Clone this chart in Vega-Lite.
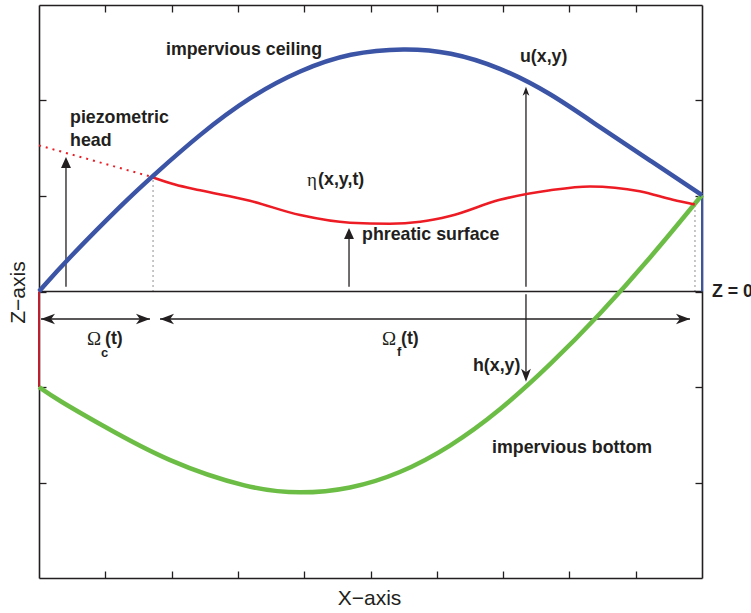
{
  "$schema": "https://vega.github.io/schema/vega-lite/v6.json",
  "width": 663,
  "height": 573,
  "autosize": "none",
  "padding": {"left": 39, "top": 5, "right": 49, "bottom": 35},
  "background": "white",
  "config": {"view": {"stroke": null}},
  "datasets": {
    "curves": [
      {"series": "ceiling", "x": 0, "y": 0},
      {"series": "ceiling", "x": 0.39, "y": 0.31},
      {"series": "ceiling", "x": 1.32, "y": 0.96},
      {"series": "ceiling", "x": 1.7, "y": 1.2},
      {"series": "ceiling", "x": 2.43, "y": 1.65},
      {"series": "ceiling", "x": 3.18, "y": 2.04},
      {"series": "ceiling", "x": 3.94, "y": 2.32},
      {"series": "ceiling", "x": 4.69, "y": 2.5},
      {"series": "ceiling", "x": 5.52, "y": 2.55},
      {"series": "ceiling", "x": 6.2, "y": 2.51},
      {"series": "ceiling", "x": 6.95, "y": 2.35},
      {"series": "ceiling", "x": 7.71, "y": 2.08},
      {"series": "ceiling", "x": 8.46, "y": 1.72},
      {"series": "ceiling", "x": 9.22, "y": 1.37},
      {"series": "ceiling", "x": 10, "y": 1.01},
      {"series": "phreatic", "x": 1.7, "y": 1.2},
      {"series": "phreatic", "x": 2.05, "y": 1.12},
      {"series": "phreatic", "x": 2.43, "y": 1.06},
      {"series": "phreatic", "x": 3.18, "y": 0.95},
      {"series": "phreatic", "x": 3.94, "y": 0.8},
      {"series": "phreatic", "x": 4.69, "y": 0.72},
      {"series": "phreatic", "x": 5.29, "y": 0.71},
      {"series": "phreatic", "x": 5.75, "y": 0.73},
      {"series": "phreatic", "x": 6.2, "y": 0.79},
      {"series": "phreatic", "x": 6.95, "y": 0.96},
      {"series": "phreatic", "x": 7.71, "y": 1.06},
      {"series": "phreatic", "x": 8.31, "y": 1.1},
      {"series": "phreatic", "x": 9.06, "y": 1.05},
      {"series": "phreatic", "x": 9.56, "y": 0.96},
      {"series": "phreatic", "x": 9.89, "y": 0.91},
      {"series": "piezometric", "x": 0, "y": 1.53},
      {"series": "piezometric", "x": 1.7, "y": 1.2},
      {"series": "bottom", "x": 0, "y": -1.0},
      {"series": "bottom", "x": 0.27, "y": -1.13},
      {"series": "bottom", "x": 0.92, "y": -1.39},
      {"series": "bottom", "x": 1.93, "y": -1.78},
      {"series": "bottom", "x": 3.18, "y": -2.07},
      {"series": "bottom", "x": 3.94, "y": -2.12},
      {"series": "bottom", "x": 4.69, "y": -2.07},
      {"series": "bottom", "x": 5.44, "y": -1.91},
      {"series": "bottom", "x": 6.2, "y": -1.63},
      {"series": "bottom", "x": 6.95, "y": -1.25},
      {"series": "bottom", "x": 7.71, "y": -0.77},
      {"series": "bottom", "x": 8.46, "y": -0.24},
      {"series": "bottom", "x": 9.22, "y": 0.35},
      {"series": "bottom", "x": 10, "y": 1.01}
    ],
    "segments": [
      {"kind": "solid", "name": "Z = 0", "x": 0, "y": 0, "x2": 10, "y2": 0},
      {"kind": "solid", "name": "Omega_c", "x": 0.03, "y": -0.288, "x2": 1.674, "y2": -0.288},
      {"kind": "solid", "name": "Omega_f", "x": 1.825, "y": -0.288, "x2": 9.819, "y2": -0.288},
      {"kind": "solid", "name": "piezometric head", "x": 0.407, "y": 0.05, "x2": 0.407, "y2": 1.35},
      {"kind": "solid", "name": "phreatic surface", "x": 4.676, "y": 0.05, "x2": 4.676, "y2": 0.6},
      {"kind": "solid", "name": "u(x,y)", "x": 7.345, "y": 0.05, "x2": 7.345, "y2": 2.12},
      {"kind": "solid", "name": "h(x,y)", "x": 7.345, "y": -0.03, "x2": 7.345, "y2": -0.92},
      {"kind": "dotted", "name": "left front", "x": 1.72, "y": 0, "x2": 1.72, "y2": 1.17},
      {"kind": "dotted", "name": "right front", "x": 9.894, "y": 0, "x2": 9.894, "y2": 0.9},
      {"kind": "redwall", "name": "left wall", "x": 0, "y": 0, "x2": 0, "y2": -1.0},
      {"kind": "bluewall", "name": "right wall", "x": 10, "y": 0, "x2": 10, "y2": 1.01}
    ],
    "heads": [
      {"dir": "filled-up", "x": 0.407, "y": 1.408},
      {"dir": "filled-up", "x": 4.676, "y": 0.665},
      {"dir": "right", "x": 1.674, "y": -0.288},
      {"dir": "right", "x": 9.819, "y": -0.288},
      {"dir": "left", "x": 0.03, "y": -0.288},
      {"dir": "left", "x": 1.825, "y": -0.288},
      {"dir": "up", "x": 7.345, "y": 2.145},
      {"dir": "down", "x": 7.345, "y": -0.945}
    ],
    "labels": [
      {"style": "bold", "label": "impervious ceiling", "x": 1.915, "y": 2.529},
      {"style": "bold", "label": "u(x,y)", "x": 7.255, "y": 2.455},
      {"style": "bold", "label": "piezometric", "x": 0.468, "y": 1.817},
      {"style": "bold", "label": "head", "x": 0.468, "y": 1.576},
      {"style": "plain", "label": "η", "x": 4.042, "y": 1.168},
      {"style": "bold", "label": "(x,y,t)", "x": 4.21, "y": 1.168},
      {"style": "bold", "label": "phreatic surface", "x": 4.872, "y": 0.592},
      {"style": "plain", "label": "Ω", "x": 0.724, "y": -0.497},
      {"style": "sub", "label": "c", "x": 0.935, "y": -0.644},
      {"style": "bold", "label": "(t)", "x": 0.995, "y": -0.497},
      {"style": "plain", "label": "Ω", "x": 5.173, "y": -0.497},
      {"style": "sub", "label": "f", "x": 5.4, "y": -0.634},
      {"style": "bold", "label": "(t)", "x": 5.46, "y": -0.497},
      {"style": "bold", "label": "h(x,y)", "x": 6.546, "y": -0.78},
      {"style": "bold", "label": "impervious bottom", "x": 6.833, "y": -1.639},
      {"style": "bold", "label": "Z = 0", "x": 10.15, "y": 0.0}
    ]
  },
  "resolve": {"axis": {"x": "independent", "y": "independent"}},
  "layer": [
    {
      "encoding": {
        "x": {
          "field": "x", "type": "quantitative",
          "scale": {"domain": [0, 10], "nice": false, "zero": false},
          "axis": {
            "title": "X−axis", "values": [1, 2, 3, 4, 5, 6, 7, 8, 9], "labels": false,
            "tickSize": -7, "tickColor": "#231f20", "tickWidth": 1.3,
            "domainColor": "#231f20", "domainWidth": 1.6, "grid": false,
            "titleFont": "Liberation Sans", "titleFontSize": 21, "titleFontWeight": "normal",
            "titleColor": "#231f20", "titleX": 330, "titleY": 20,
            "titleBaseline": "middle", "titleAlign": "center"
          }
        },
        "y": {
          "field": "y", "type": "quantitative",
          "scale": {"domain": [-3, 3], "nice": false, "zero": false},
          "axis": {
            "title": "Z−axis", "values": [-2, -1, 0, 1, 2], "labels": false,
            "tickSize": -7, "tickColor": "#231f20", "tickWidth": 1.3,
            "domainColor": "#231f20", "domainWidth": 1.6, "grid": false,
            "titleFont": "Liberation Sans", "titleFontSize": 21, "titleFontWeight": "normal",
            "titleColor": "#231f20", "titleAngle": 270, "titleX": -21, "titleY": 287,
            "titleBaseline": "middle", "titleAlign": "center"
          }
        }
      },
      "layer": [
        {
          "data": {"name": "segments"},
          "transform": [{"filter": "datum.kind == 'solid'"}],
          "mark": {"type": "rule", "color": "#231f20", "strokeWidth": 1.3},
          "encoding": {"x2": {"field": "x2"}, "y2": {"field": "y2"}}
        },
        {
          "data": {"name": "segments"},
          "transform": [{"filter": "datum.kind == 'dotted'"}],
          "mark": {"type": "rule", "color": "#231f20", "strokeWidth": 1, "strokeDash": [1, 4]},
          "encoding": {"x2": {"field": "x2"}, "y2": {"field": "y2"}}
        },
        {
          "data": {"name": "segments"},
          "transform": [{"filter": "datum.kind == 'redwall'"}],
          "mark": {"type": "rule", "color": "#be1e2d", "strokeWidth": 2},
          "encoding": {"x2": {"field": "x2"}, "y2": {"field": "y2"}}
        },
        {
          "data": {"name": "segments"},
          "transform": [{"filter": "datum.kind == 'bluewall'"}],
          "mark": {"type": "rule", "color": "#3b54a5", "strokeWidth": 2},
          "encoding": {"x2": {"field": "x2"}, "y2": {"field": "y2"}}
        },
        {
          "data": {"name": "curves"},
          "transform": [{"filter": "datum.series == 'piezometric'"}],
          "mark": {"type": "line", "color": "#ed1c24", "strokeWidth": 2, "strokeDash": [2, 5]},
          "encoding": {}
        },
        {
          "data": {"name": "curves"},
          "transform": [{"filter": "datum.series == 'bottom'"}],
          "mark": {"type": "line", "color": "#6cbd45", "strokeWidth": 4.5, "interpolate": "basis"},
          "encoding": {}
        },
        {
          "data": {"name": "curves"},
          "transform": [{"filter": "datum.series == 'phreatic'"}],
          "mark": {"type": "line", "color": "#ed1c24", "strokeWidth": 2.6, "interpolate": "monotone"},
          "encoding": {}
        },
        {
          "data": {"name": "curves"},
          "transform": [{"filter": "datum.series == 'ceiling'"}],
          "mark": {"type": "line", "color": "#3b54a5", "strokeWidth": 4.5, "interpolate": "basis"},
          "encoding": {}
        },
        {
          "data": {"name": "heads"},
          "transform": [{"filter": "datum.dir == 'filled-up'"}],
          "mark": {"type": "point", "shape": "M0,0L0.9,2L-0.9,2Z", "size": 121, "filled": true, "fill": "#231f20", "strokeWidth": 0, "opacity": 1}
        },
        {
          "data": {"name": "heads"},
          "transform": [{"filter": "datum.dir == 'right'"}],
          "mark": {"type": "point", "shape": "M0,0L-2,-0.75L-1.45,0L-2,0.75Z", "size": 196, "filled": true, "fill": "#231f20", "strokeWidth": 0, "opacity": 1}
        },
        {
          "data": {"name": "heads"},
          "transform": [{"filter": "datum.dir == 'left'"}],
          "mark": {"type": "point", "shape": "M0,0L-2,-0.75L-1.45,0L-2,0.75Z", "size": 196, "angle": 180, "filled": true, "fill": "#231f20", "strokeWidth": 0, "opacity": 1}
        },
        {
          "data": {"name": "heads"},
          "transform": [{"filter": "datum.dir == 'up'"}],
          "mark": {"type": "point", "shape": "M0,0L-2,-0.75L-1.45,0L-2,0.75Z", "size": 81, "angle": 270, "filled": true, "fill": "#231f20", "strokeWidth": 0, "opacity": 1}
        },
        {
          "data": {"name": "heads"},
          "transform": [{"filter": "datum.dir == 'down'"}],
          "mark": {"type": "point", "shape": "M0,0L-2,-0.75L-1.45,0L-2,0.75Z", "size": 169, "angle": 90, "filled": true, "fill": "#231f20", "strokeWidth": 0, "opacity": 1}
        },
        {
          "data": {"name": "labels"},
          "transform": [{"filter": "datum.style == 'bold'"}],
          "mark": {"type": "text", "font": "Liberation Sans", "fontWeight": "bold", "fontSize": 17.8, "color": "#231f20", "align": "left", "baseline": "middle"},
          "encoding": {"text": {"field": "label"}}
        },
        {
          "data": {"name": "labels"},
          "transform": [{"filter": "datum.style == 'plain'"}],
          "mark": {"type": "text", "font": "Liberation Serif", "fontWeight": "normal", "fontSize": 19, "color": "#231f20", "align": "left", "baseline": "middle"},
          "encoding": {"text": {"field": "label"}}
        },
        {
          "data": {"name": "labels"},
          "transform": [{"filter": "datum.style == 'sub'"}],
          "mark": {"type": "text", "font": "Liberation Sans", "fontWeight": "bold", "fontSize": 13, "color": "#231f20", "align": "left", "baseline": "middle"},
          "encoding": {"text": {"field": "label"}}
        }
      ]
    },
    {
      "data": {"name": "segments"},
      "transform": [{"filter": "datum.name == 'Z = 0'"}],
      "mark": {"type": "rule", "opacity": 0},
      "encoding": {
        "x": {
          "field": "x", "type": "quantitative",
          "axis": {
            "orient": "top", "title": null, "values": [1, 2, 3, 4, 5, 6, 7, 8, 9], "labels": false,
            "tickSize": -7, "tickColor": "#231f20", "tickWidth": 1.3,
            "domainColor": "#231f20", "domainWidth": 1.6, "grid": false
          }
        },
        "y": {
          "field": "y", "type": "quantitative",
          "axis": {
            "orient": "right", "title": null, "values": [-2, -1, 0, 1, 2], "labels": false,
            "tickSize": -7, "tickColor": "#231f20", "tickWidth": 1.3,
            "domainColor": "#231f20", "domainWidth": 1.6, "grid": false
          }
        }
      }
    }
  ]
}
